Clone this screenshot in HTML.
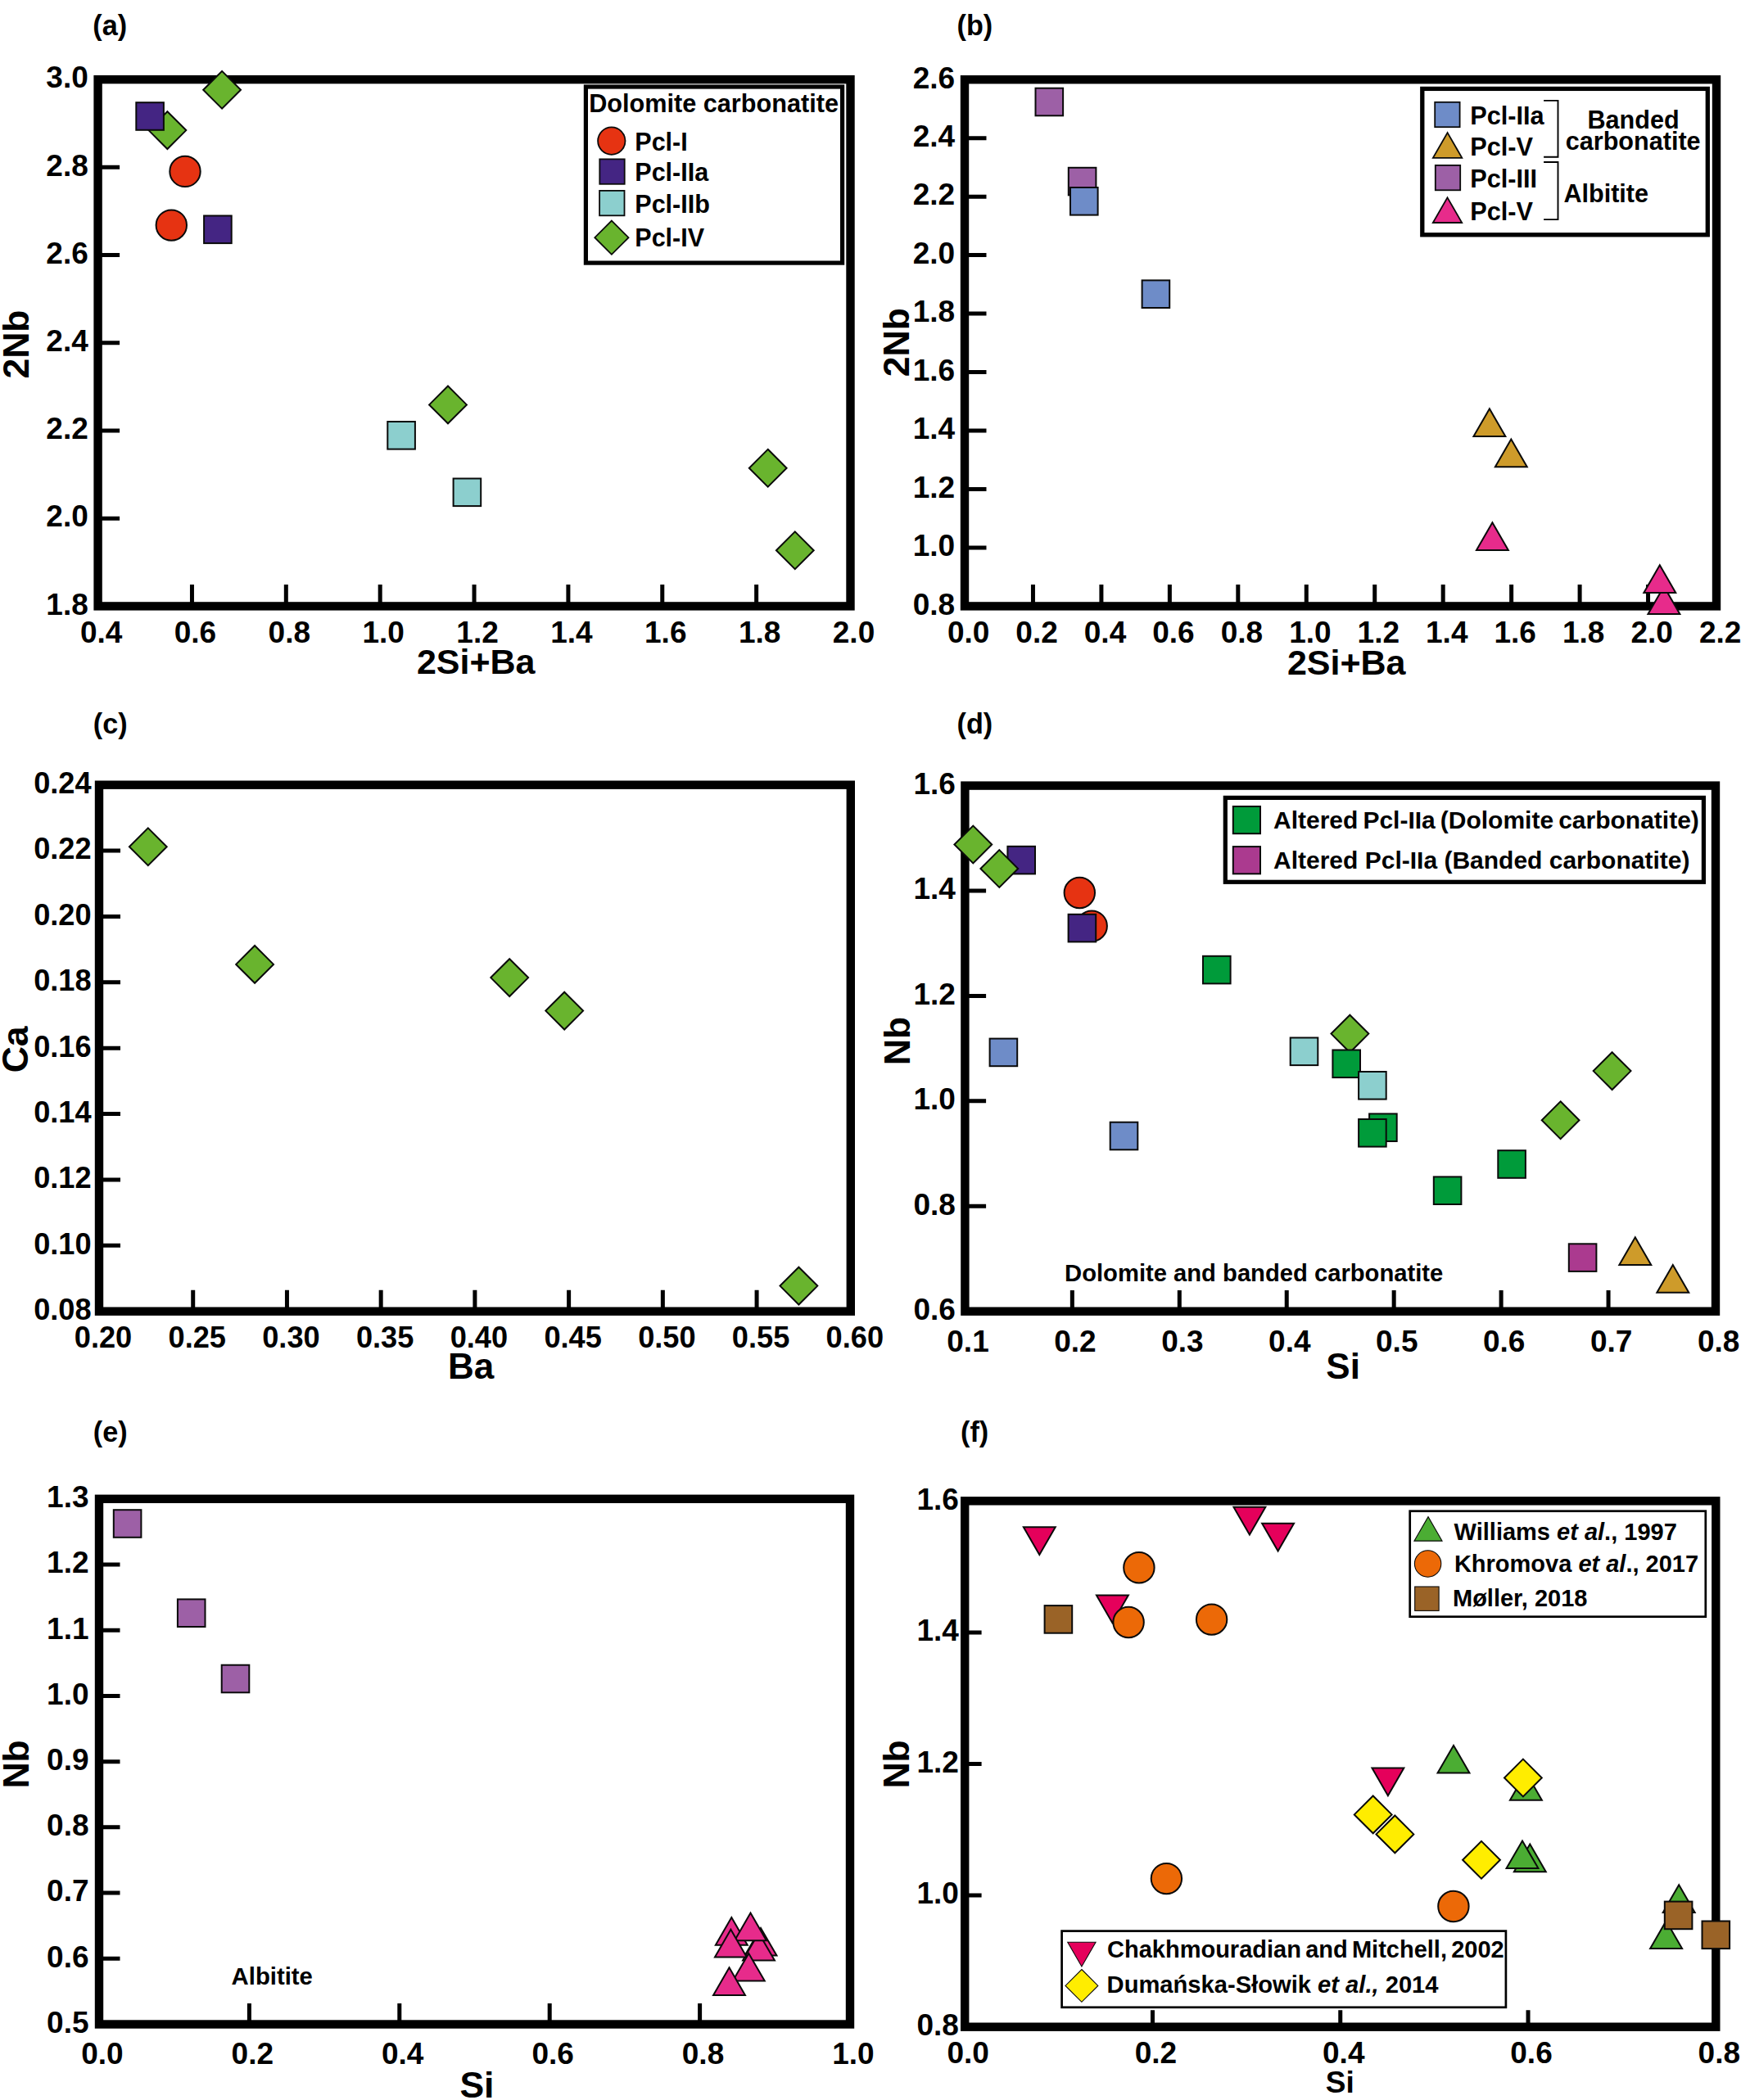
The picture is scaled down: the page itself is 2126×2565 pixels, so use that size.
<!DOCTYPE html>
<html lang="en"><head><meta charset="utf-8"><title>Pyrochlore composition plots</title>
<style>html,body{margin:0;padding:0;background:#fff}svg{display:block}text{font-family:"Liberation Sans",Arial,Helvetica,sans-serif;font-weight:bold;fill:#000}.it{font-style:italic}</style></head><body>
<svg width="2126" height="2565" viewBox="0 0 2126 2565">
<rect width="2126" height="2565" fill="#fff"/>
<g id="panel-a">
<text x="113.3" y="43.2" font-size="34.2" text-anchor="start">(a)</text>
<path d="M234.46 740.4V713.9M349.32 740.4V713.9M464.19 740.4V713.9M579.05 740.4V713.9M693.91 740.4V713.9M808.77 740.4V713.9M923.64 740.4V713.9M119.6 633.18H146.1M119.6 525.97H146.1M119.6 418.75H146.1M119.6 311.53H146.1M119.6 204.32H146.1" stroke="#000" stroke-width="5.0" fill="none"/>
<rect x="119.6" y="97.1" width="918.9" height="643.3" fill="none" stroke="#000" stroke-width="10.4"/>
<text x="123.6" y="784.5" font-size="37" text-anchor="middle">0.4</text>
<text x="238.46" y="784.5" font-size="37" text-anchor="middle">0.6</text>
<text x="353.32" y="784.5" font-size="37" text-anchor="middle">0.8</text>
<text x="468.19" y="784.5" font-size="37" text-anchor="middle">1.0</text>
<text x="583.05" y="784.5" font-size="37" text-anchor="middle">1.2</text>
<text x="697.91" y="784.5" font-size="37" text-anchor="middle">1.4</text>
<text x="812.77" y="784.5" font-size="37" text-anchor="middle">1.6</text>
<text x="927.64" y="784.5" font-size="37" text-anchor="middle">1.8</text>
<text x="1042.5" y="784.5" font-size="37" text-anchor="middle">2.0</text>
<text x="107.8" y="750.7" font-size="37" text-anchor="end">1.8</text>
<text x="107.8" y="643.48" font-size="37" text-anchor="end">2.0</text>
<text x="107.8" y="536.27" font-size="37" text-anchor="end">2.2</text>
<text x="107.8" y="429.05" font-size="37" text-anchor="end">2.4</text>
<text x="107.8" y="321.83" font-size="37" text-anchor="end">2.6</text>
<text x="107.8" y="214.62" font-size="37" text-anchor="end">2.8</text>
<text x="107.8" y="107.4" font-size="37" text-anchor="end">3.0</text>
<text x="508.9" y="823.4" font-size="43" text-anchor="start">2Si+Ba</text>
<text transform="translate(34.5 420.5) rotate(-90)" font-size="44.5" text-anchor="middle">2Nb</text>
<polygon points="204.4,136.2 227.3,159.1 204.4,182 181.5,159.1" fill="#69B42E" stroke="#0a0a0a" stroke-width="2.0"/>
<rect x="166.3" y="125.2" width="33.6" height="33.6" fill="#442583" stroke="#0a0a0a" stroke-width="2.0"/>
<polygon points="271.1,86.9 294,109.8 271.1,132.7 248.2,109.8" fill="#69B42E" stroke="#0a0a0a" stroke-width="2.0"/>
<circle cx="226" cy="209.4" r="18.7" fill="#E63312" stroke="#0a0a0a" stroke-width="2.0"/>
<circle cx="209.3" cy="275.1" r="18.7" fill="#E63312" stroke="#0a0a0a" stroke-width="2.0"/>
<rect x="249.1" y="263.5" width="33.6" height="33.6" fill="#442583" stroke="#0a0a0a" stroke-width="2.0"/>
<rect x="473.3" y="515" width="33.6" height="33.6" fill="#8CCFCE" stroke="#0a0a0a" stroke-width="2.0"/>
<rect x="553.6" y="584.5" width="33.6" height="33.6" fill="#8CCFCE" stroke="#0a0a0a" stroke-width="2.0"/>
<polygon points="547,471.5 569.9,494.4 547,517.3 524.1,494.4" fill="#69B42E" stroke="#0a0a0a" stroke-width="2.0"/>
<polygon points="937.7,548.8 960.6,571.7 937.7,594.6 914.8,571.7" fill="#69B42E" stroke="#0a0a0a" stroke-width="2.0"/>
<polygon points="970.8,649.4 993.7,672.3 970.8,695.2 947.9,672.3" fill="#69B42E" stroke="#0a0a0a" stroke-width="2.0"/>
<rect x="715.4" y="106" width="313.2" height="215.1" fill="#fff" stroke="#000" stroke-width="5.2"/>
<text x="719.2" y="137.1" font-size="30.65" text-anchor="start">Dolomite carbonatite</text>
<circle cx="746.8" cy="172.1" r="16.7" fill="#E63312" stroke="#0a0a0a" stroke-width="1.8"/>
<rect x="732.3" y="194.4" width="30.4" height="30.4" fill="#442583" stroke="#0a0a0a" stroke-width="1.8"/>
<rect x="732.1" y="232.9" width="30.4" height="30.4" fill="#8CCFCE" stroke="#0a0a0a" stroke-width="1.8"/>
<polygon points="746.9,269.6 767.5,290.2 746.9,310.8 726.3,290.2" fill="#69B42E" stroke="#0a0a0a" stroke-width="1.8"/>
<text x="775.3" y="184.1" font-size="30.5" text-anchor="start">Pcl-I</text>
<text x="775.3" y="220.7" font-size="30.5" text-anchor="start">Pcl-IIa</text>
<text x="775.3" y="259.6" font-size="30.5" text-anchor="start">Pcl-IIb</text>
<text x="775.3" y="301.3" font-size="30.5" text-anchor="start">Pcl-IV</text>
</g>
<g id="panel-b">
<text x="1168.5" y="43.2" font-size="34.2" text-anchor="start">(b)</text>
<path d="M1261.45 740.4V713.9M1344.91 740.4V713.9M1428.36 740.4V713.9M1511.82 740.4V713.9M1595.27 740.4V713.9M1678.73 740.4V713.9M1762.18 740.4V713.9M1845.64 740.4V713.9M1929.09 740.4V713.9M2012.55 740.4V713.9M1178 668.93H1204.5M1178 597.47H1204.5M1178 526H1204.5M1178 454.53H1204.5M1178 383.07H1204.5M1178 311.6H1204.5M1178 240.13H1204.5M1178 168.67H1204.5" stroke="#000" stroke-width="5.0" fill="none"/>
<rect x="1178" y="97.2" width="918" height="643.2" fill="none" stroke="#000" stroke-width="10.4"/>
<text x="1182.6" y="784.6" font-size="37" text-anchor="middle">0.0</text>
<text x="1266.05" y="784.6" font-size="37" text-anchor="middle">0.2</text>
<text x="1349.51" y="784.6" font-size="37" text-anchor="middle">0.4</text>
<text x="1432.96" y="784.6" font-size="37" text-anchor="middle">0.6</text>
<text x="1516.42" y="784.6" font-size="37" text-anchor="middle">0.8</text>
<text x="1599.87" y="784.6" font-size="37" text-anchor="middle">1.0</text>
<text x="1683.33" y="784.6" font-size="37" text-anchor="middle">1.2</text>
<text x="1766.78" y="784.6" font-size="37" text-anchor="middle">1.4</text>
<text x="1850.24" y="784.6" font-size="37" text-anchor="middle">1.6</text>
<text x="1933.69" y="784.6" font-size="37" text-anchor="middle">1.8</text>
<text x="2017.15" y="784.6" font-size="37" text-anchor="middle">2.0</text>
<text x="2100.6" y="784.6" font-size="37" text-anchor="middle">2.2</text>
<text x="1166.2" y="750.7" font-size="37" text-anchor="end">0.8</text>
<text x="1166.2" y="679.23" font-size="37" text-anchor="end">1.0</text>
<text x="1166.2" y="607.77" font-size="37" text-anchor="end">1.2</text>
<text x="1166.2" y="536.3" font-size="37" text-anchor="end">1.4</text>
<text x="1166.2" y="464.83" font-size="37" text-anchor="end">1.6</text>
<text x="1166.2" y="393.37" font-size="37" text-anchor="end">1.8</text>
<text x="1166.2" y="321.9" font-size="37" text-anchor="end">2.0</text>
<text x="1166.2" y="250.43" font-size="37" text-anchor="end">2.2</text>
<text x="1166.2" y="178.97" font-size="37" text-anchor="end">2.4</text>
<text x="1166.2" y="107.5" font-size="37" text-anchor="end">2.6</text>
<text x="1571.9" y="824.3" font-size="43" text-anchor="start">2Si+Ba</text>
<text transform="translate(1110.3 418.1) rotate(-90)" font-size="44.5" text-anchor="middle">2Nb</text>
<rect x="1264.5" y="107.7" width="33.6" height="33.6" fill="#9D60A6" stroke="#0a0a0a" stroke-width="2.0"/>
<rect x="1304.8" y="204.8" width="33.6" height="33.6" fill="#9D60A6" stroke="#0a0a0a" stroke-width="2.0"/>
<rect x="1307" y="229" width="33.6" height="33.6" fill="#6E8CC8" stroke="#0a0a0a" stroke-width="2.0"/>
<rect x="1394.6" y="342.4" width="33.6" height="33.6" fill="#6E8CC8" stroke="#0a0a0a" stroke-width="2.0"/>
<polygon points="1818.9,499.31 1838.35,533 1799.45,533" fill="#CE9B2A" stroke="#0a0a0a" stroke-width="2.0"/>
<polygon points="1845.3,536.51 1864.75,570.2 1825.85,570.2" fill="#CE9B2A" stroke="#0a0a0a" stroke-width="2.0"/>
<polygon points="1822.4,638.21 1841.85,671.9 1802.95,671.9" fill="#E72B8B" stroke="#0a0a0a" stroke-width="2.0"/>
<polygon points="2031.9,716.31 2051.35,750 2012.45,750" fill="#E72B8B" stroke="#0a0a0a" stroke-width="2.0"/>
<polygon points="2026.8,690.31 2046.25,724 2007.35,724" fill="#E72B8B" stroke="#0a0a0a" stroke-width="2.0"/>
<rect x="1736.8" y="108.4" width="348.5" height="178.4" fill="#fff" stroke="#000" stroke-width="5.3"/>
<rect x="1752.2" y="124.8" width="30.4" height="30.4" fill="#6E8CC8" stroke="#0a0a0a" stroke-width="1.8"/>
<polygon points="1767.6,162.14 1785.3,192.8 1749.9,192.8" fill="#CE9B2A" stroke="#0a0a0a" stroke-width="1.8"/>
<rect x="1752.8" y="201.9" width="30.4" height="30.4" fill="#9D60A6" stroke="#0a0a0a" stroke-width="1.8"/>
<polygon points="1767.5,241.34 1785.2,272 1749.8,272" fill="#E72B8B" stroke="#0a0a0a" stroke-width="1.8"/>
<text x="1795.2" y="151.6" font-size="30.7" text-anchor="start">Pcl-IIa</text>
<text x="1795.2" y="189.9" font-size="30.7" text-anchor="start">Pcl-V</text>
<text x="1795.2" y="228.5" font-size="30.7" text-anchor="start">Pcl-III</text>
<text x="1795.2" y="268.5" font-size="30.7" text-anchor="start">Pcl-V</text>
<path d="M1885.1 122.9H1902.5V191.8H1885.1M1885.1 198H1902.5V268.1H1885.1" fill="none" stroke="#000" stroke-width="1.9"/>
<text x="1994.6" y="157.3" font-size="30.6" text-anchor="middle">Banded</text>
<text x="1994.2" y="183" font-size="30.6" text-anchor="middle">carbonatite</text>
<text x="1909.4" y="246.9" font-size="30.6" text-anchor="start">Albitite</text>
</g>
<g id="panel-c">
<text x="113.8" y="896.4" font-size="34.2" text-anchor="start">(c)</text>
<path d="M235.72 1601.7V1575.7M350.45 1601.7V1575.7M465.17 1601.7V1575.7M579.9 1601.7V1575.7M694.62 1601.7V1575.7M809.35 1601.7V1575.7M924.07 1601.7V1575.7M121 1521.33H147M121 1440.95H147M121 1360.58H147M121 1280.2H147M121 1199.83H147M121 1119.45H147M121 1039.08H147" stroke="#000" stroke-width="5.0" fill="none"/>
<rect x="121" y="958.7" width="917.8" height="643" fill="none" stroke="#000" stroke-width="10.4"/>
<text x="126" y="1645.7" font-size="36.2" text-anchor="middle">0.20</text>
<text x="240.72" y="1645.7" font-size="36.2" text-anchor="middle">0.25</text>
<text x="355.45" y="1645.7" font-size="36.2" text-anchor="middle">0.30</text>
<text x="470.17" y="1645.7" font-size="36.2" text-anchor="middle">0.35</text>
<text x="584.9" y="1645.7" font-size="36.2" text-anchor="middle">0.40</text>
<text x="699.62" y="1645.7" font-size="36.2" text-anchor="middle">0.45</text>
<text x="814.35" y="1645.7" font-size="36.2" text-anchor="middle">0.50</text>
<text x="929.07" y="1645.7" font-size="36.2" text-anchor="middle">0.55</text>
<text x="1043.8" y="1645.7" font-size="36.2" text-anchor="middle">0.60</text>
<text x="111.6" y="1612" font-size="36.2" text-anchor="end">0.08</text>
<text x="111.6" y="1531.62" font-size="36.2" text-anchor="end">0.10</text>
<text x="111.6" y="1451.25" font-size="36.2" text-anchor="end">0.12</text>
<text x="111.6" y="1370.88" font-size="36.2" text-anchor="end">0.14</text>
<text x="111.6" y="1290.5" font-size="36.2" text-anchor="end">0.16</text>
<text x="111.6" y="1210.12" font-size="36.2" text-anchor="end">0.18</text>
<text x="111.6" y="1129.75" font-size="36.2" text-anchor="end">0.20</text>
<text x="111.6" y="1049.38" font-size="36.2" text-anchor="end">0.22</text>
<text x="111.6" y="969" font-size="36.2" text-anchor="end">0.24</text>
<text x="546.9" y="1684.1" font-size="44" text-anchor="start">Ba</text>
<text transform="translate(33.9 1281.9) rotate(-90)" font-size="44.5" text-anchor="middle">Ca</text>
<polygon points="180.8,1011.4 203.7,1034.3 180.8,1057.2 157.9,1034.3" fill="#69B42E" stroke="#0a0a0a" stroke-width="2.0"/>
<polygon points="311.1,1155 334,1177.9 311.1,1200.8 288.2,1177.9" fill="#69B42E" stroke="#0a0a0a" stroke-width="2.0"/>
<polygon points="622.2,1171.2 645.1,1194.1 622.2,1217 599.3,1194.1" fill="#69B42E" stroke="#0a0a0a" stroke-width="2.0"/>
<polygon points="689.2,1211.7 712.1,1234.6 689.2,1257.5 666.3,1234.6" fill="#69B42E" stroke="#0a0a0a" stroke-width="2.0"/>
<polygon points="975.4,1547.7 998.3,1570.6 975.4,1593.5 952.5,1570.6" fill="#69B42E" stroke="#0a0a0a" stroke-width="2.0"/>
</g>
<g id="panel-d">
<text x="1168.5" y="896.4" font-size="34.2" text-anchor="start">(d)</text>
<path d="M1309.34 1601.7V1576M1440.29 1601.7V1576M1571.23 1601.7V1576M1702.17 1601.7V1576M1833.11 1601.7V1576M1964.06 1601.7V1576M1178.4 1473.28H1204.1M1178.4 1344.86H1204.1M1178.4 1216.44H1204.1M1178.4 1088.02H1204.1" stroke="#000" stroke-width="5.0" fill="none"/>
<rect x="1178.4" y="959.6" width="916.6" height="642.1" fill="none" stroke="#000" stroke-width="10.4"/>
<text x="1182" y="1651.2" font-size="37" text-anchor="middle">0.1</text>
<text x="1312.94" y="1651.2" font-size="37" text-anchor="middle">0.2</text>
<text x="1443.89" y="1651.2" font-size="37" text-anchor="middle">0.3</text>
<text x="1574.83" y="1651.2" font-size="37" text-anchor="middle">0.4</text>
<text x="1705.77" y="1651.2" font-size="37" text-anchor="middle">0.5</text>
<text x="1836.71" y="1651.2" font-size="37" text-anchor="middle">0.6</text>
<text x="1967.66" y="1651.2" font-size="37" text-anchor="middle">0.7</text>
<text x="2098.6" y="1651.2" font-size="37" text-anchor="middle">0.8</text>
<text x="1166.9" y="1612" font-size="37" text-anchor="end">0.6</text>
<text x="1166.9" y="1483.58" font-size="37" text-anchor="end">0.8</text>
<text x="1166.9" y="1355.16" font-size="37" text-anchor="end">1.0</text>
<text x="1166.9" y="1226.74" font-size="37" text-anchor="end">1.2</text>
<text x="1166.9" y="1098.32" font-size="37" text-anchor="end">1.4</text>
<text x="1166.9" y="969.9" font-size="37" text-anchor="end">1.6</text>
<text x="1619.3" y="1683.9" font-size="44" text-anchor="start">Si</text>
<text transform="translate(1111.1 1271.5) rotate(-90)" font-size="44.5" text-anchor="middle">Nb</text>
<text x="1300.1" y="1565.4" font-size="29.2" text-anchor="start">Dolomite and banded carbonatite</text>
<rect x="1230.4" y="1033.8" width="33.6" height="33.6" fill="#442583" stroke="#0a0a0a" stroke-width="2.0"/>
<polygon points="1188.3,1008.6 1211.2,1031.5 1188.3,1054.4 1165.4,1031.5" fill="#69B42E" stroke="#0a0a0a" stroke-width="2.0"/>
<polygon points="1220.3,1038.1 1243.2,1061 1220.3,1083.9 1197.4,1061" fill="#69B42E" stroke="#0a0a0a" stroke-width="2.0"/>
<circle cx="1318.3" cy="1090.5" r="18.7" fill="#E63312" stroke="#0a0a0a" stroke-width="2.0"/>
<circle cx="1333.2" cy="1131.1" r="18.7" fill="#E63312" stroke="#0a0a0a" stroke-width="2.0"/>
<rect x="1304.6" y="1116.8" width="33.6" height="33.6" fill="#442583" stroke="#0a0a0a" stroke-width="2.0"/>
<rect x="1469" y="1167.8" width="33.6" height="33.6" fill="#009B3A" stroke="#0a0a0a" stroke-width="2.0"/>
<rect x="1208.6" y="1268.6" width="33.6" height="33.6" fill="#6E8CC8" stroke="#0a0a0a" stroke-width="2.0"/>
<rect x="1355.7" y="1370.7" width="33.6" height="33.6" fill="#6E8CC8" stroke="#0a0a0a" stroke-width="2.0"/>
<rect x="1575.7" y="1267.5" width="33.6" height="33.6" fill="#8CCFCE" stroke="#0a0a0a" stroke-width="2.0"/>
<polygon points="1648.4,1239.7 1671.3,1262.6 1648.4,1285.5 1625.5,1262.6" fill="#69B42E" stroke="#0a0a0a" stroke-width="2.0"/>
<rect x="1627.4" y="1282.5" width="33.6" height="33.6" fill="#009B3A" stroke="#0a0a0a" stroke-width="2.0"/>
<rect x="1659.1" y="1309" width="33.6" height="33.6" fill="#8CCFCE" stroke="#0a0a0a" stroke-width="2.0"/>
<rect x="1672.1" y="1360.4" width="33.6" height="33.6" fill="#009B3A" stroke="#0a0a0a" stroke-width="2.0"/>
<rect x="1659.1" y="1367" width="33.6" height="33.6" fill="#009B3A" stroke="#0a0a0a" stroke-width="2.0"/>
<rect x="1829.3" y="1405.2" width="33.6" height="33.6" fill="#009B3A" stroke="#0a0a0a" stroke-width="2.0"/>
<rect x="1750.8" y="1437.4" width="33.6" height="33.6" fill="#009B3A" stroke="#0a0a0a" stroke-width="2.0"/>
<polygon points="1968.6,1285.2 1991.5,1308.1 1968.6,1331 1945.7,1308.1" fill="#69B42E" stroke="#0a0a0a" stroke-width="2.0"/>
<polygon points="1905.6,1345.3 1928.5,1368.2 1905.6,1391.1 1882.7,1368.2" fill="#69B42E" stroke="#0a0a0a" stroke-width="2.0"/>
<rect x="1915.8" y="1519.3" width="33.6" height="33.6" fill="#AB3A8F" stroke="#0a0a0a" stroke-width="2.0"/>
<polygon points="1996.8,1511.31 2016.25,1545 1977.35,1545" fill="#CE9B2A" stroke="#0a0a0a" stroke-width="2.0"/>
<polygon points="2042.8,1545.11 2062.25,1578.8 2023.35,1578.8" fill="#CE9B2A" stroke="#0a0a0a" stroke-width="2.0"/>
<rect x="1496.3" y="974.4" width="584.1" height="102.9" fill="#fff" stroke="#000" stroke-width="5.2"/>
<rect x="1505.8" y="985" width="33.2" height="33.2" fill="#009B3A" stroke="#0a0a0a" stroke-width="2.0"/>
<rect x="1505.8" y="1034.1" width="33.2" height="33.2" fill="#AB3A8F" stroke="#0a0a0a" stroke-width="2.0"/>
<text x="1555" y="1011.9" font-size="30" text-anchor="start" word-spacing="-2.3">Altered Pcl-IIa (Dolomite carbonatite)</text>
<text x="1555" y="1061.1" font-size="30" text-anchor="start">Altered Pcl-IIa (Banded carbonatite)</text>
</g>
<g id="panel-e">
<text x="113.8" y="1760.6" font-size="34.2" text-anchor="start">(e)</text>
<path d="M304.4 2472.5V2447M487.8 2472.5V2447M671.2 2472.5V2447M854.6 2472.5V2447M121 2392.29H146.5M121 2312.07H146.5M121 2231.86H146.5M121 2151.65H146.5M121 2071.44H146.5M121 1991.22H146.5M121 1911.01H146.5" stroke="#000" stroke-width="5.0" fill="none"/>
<rect x="121" y="1830.8" width="917" height="641.7" fill="none" stroke="#000" stroke-width="10.4"/>
<text x="124.9" y="2521.3" font-size="37" text-anchor="middle">0.0</text>
<text x="308.3" y="2521.3" font-size="37" text-anchor="middle">0.2</text>
<text x="491.7" y="2521.3" font-size="37" text-anchor="middle">0.4</text>
<text x="675.1" y="2521.3" font-size="37" text-anchor="middle">0.6</text>
<text x="858.5" y="2521.3" font-size="37" text-anchor="middle">0.8</text>
<text x="1041.9" y="2521.3" font-size="37" text-anchor="middle">1.0</text>
<text x="108.5" y="2482.8" font-size="37" text-anchor="end">0.5</text>
<text x="108.5" y="2402.59" font-size="37" text-anchor="end">0.6</text>
<text x="108.5" y="2322.38" font-size="37" text-anchor="end">0.7</text>
<text x="108.5" y="2242.16" font-size="37" text-anchor="end">0.8</text>
<text x="108.5" y="2161.95" font-size="37" text-anchor="end">0.9</text>
<text x="108.5" y="2081.74" font-size="37" text-anchor="end">1.0</text>
<text x="108.5" y="2001.52" font-size="37" text-anchor="end">1.1</text>
<text x="108.5" y="1921.31" font-size="37" text-anchor="end">1.2</text>
<text x="108.5" y="1841.1" font-size="37" text-anchor="end">1.3</text>
<text x="561.4" y="2562" font-size="44.5" text-anchor="start">Si</text>
<text transform="translate(35 2154.9) rotate(-90)" font-size="44.5" text-anchor="middle">Nb</text>
<text x="282.6" y="2424.3" font-size="29.3" text-anchor="start">Albitite</text>
<rect x="138.8" y="1844.2" width="33.6" height="33.6" fill="#9D60A6" stroke="#0a0a0a" stroke-width="2.0"/>
<rect x="216.9" y="1953.4" width="33.6" height="33.6" fill="#9D60A6" stroke="#0a0a0a" stroke-width="2.0"/>
<rect x="270.7" y="2033.7" width="33.6" height="33.6" fill="#9D60A6" stroke="#0a0a0a" stroke-width="2.0"/>
<polygon points="929,2354.91 948.45,2388.6 909.55,2388.6" fill="#E72B8B" stroke="#0a0a0a" stroke-width="2.0"/>
<polygon points="926.5,2360.91 945.95,2394.6 907.05,2394.6" fill="#E72B8B" stroke="#0a0a0a" stroke-width="2.0"/>
<polygon points="893.3,2342.01 912.75,2375.7 873.85,2375.7" fill="#E72B8B" stroke="#0a0a0a" stroke-width="2.0"/>
<polygon points="916.5,2336.51 935.95,2370.2 897.05,2370.2" fill="#E72B8B" stroke="#0a0a0a" stroke-width="2.0"/>
<polygon points="892.4,2356.81 911.85,2390.5 872.95,2390.5" fill="#E72B8B" stroke="#0a0a0a" stroke-width="2.0"/>
<polygon points="914.3,2385.91 933.75,2419.6 894.85,2419.6" fill="#E72B8B" stroke="#0a0a0a" stroke-width="2.0"/>
<polygon points="890.5,2403.31 909.95,2437 871.05,2437" fill="#E72B8B" stroke="#0a0a0a" stroke-width="2.0"/>
</g>
<g id="panel-f">
<text x="1173" y="1760.6" font-size="34.2" text-anchor="start">(f)</text>
<path d="M1407.48 2475.7V2455.3M1636.75 2475.7V2455.3M1866.03 2475.7V2455.3M1178.2 2315.1H1198.6M1178.2 2154.5H1198.6M1178.2 1993.9H1198.6" stroke="#000" stroke-width="5.0" fill="none"/>
<rect x="1178.2" y="1833.3" width="917.1" height="642.4" fill="none" stroke="#000" stroke-width="10.4"/>
<text x="1182.2" y="2519.8" font-size="37" text-anchor="middle">0.0</text>
<text x="1411.48" y="2519.8" font-size="37" text-anchor="middle">0.2</text>
<text x="1640.75" y="2519.8" font-size="37" text-anchor="middle">0.4</text>
<text x="1870.03" y="2519.8" font-size="37" text-anchor="middle">0.6</text>
<text x="2099.3" y="2519.8" font-size="37" text-anchor="middle">0.8</text>
<text x="1170.9" y="2486" font-size="37" text-anchor="end">0.8</text>
<text x="1170.9" y="2325.4" font-size="37" text-anchor="end">1.0</text>
<text x="1170.9" y="2164.8" font-size="37" text-anchor="end">1.2</text>
<text x="1170.9" y="2004.2" font-size="37" text-anchor="end">1.4</text>
<text x="1170.9" y="1843.6" font-size="37" text-anchor="end">1.6</text>
<text x="1618.8" y="2556.2" font-size="37" text-anchor="start">Si</text>
<text transform="translate(1110.1 2154.9) rotate(-90)" font-size="44.5" text-anchor="middle">Nb</text>
<polygon points="1249.85,1865.3 1288.75,1865.3 1269.3,1898.99" fill="#E5005B" stroke="#0a0a0a" stroke-width="2.0"/>
<polygon points="1506.45,1840.8 1545.35,1840.8 1525.9,1874.49" fill="#E5005B" stroke="#0a0a0a" stroke-width="2.0"/>
<polygon points="1541.15,1860.8 1580.05,1860.8 1560.6,1894.49" fill="#E5005B" stroke="#0a0a0a" stroke-width="2.0"/>
<polygon points="1338.95,1948.6 1377.85,1948.6 1358.4,1982.29" fill="#E5005B" stroke="#0a0a0a" stroke-width="2.0"/>
<circle cx="1390.9" cy="1914.8" r="18.7" fill="#EC6907" stroke="#0a0a0a" stroke-width="2.0"/>
<circle cx="1378.1" cy="1981.5" r="18.7" fill="#EC6907" stroke="#0a0a0a" stroke-width="2.0"/>
<circle cx="1479.6" cy="1978.1" r="18.7" fill="#EC6907" stroke="#0a0a0a" stroke-width="2.0"/>
<rect x="1275.6" y="1961.1" width="33.6" height="33.6" fill="#9A6327" stroke="#0a0a0a" stroke-width="2.0"/>
<circle cx="1424.4" cy="2294.6" r="18.7" fill="#EC6907" stroke="#0a0a0a" stroke-width="2.0"/>
<polygon points="1675.45,2159.6 1714.35,2159.6 1694.9,2193.29" fill="#E5005B" stroke="#0a0a0a" stroke-width="2.0"/>
<polygon points="1775,2131.91 1794.45,2165.6 1755.55,2165.6" fill="#4BAD33" stroke="#0a0a0a" stroke-width="2.0"/>
<polygon points="1863.4,2165.01 1882.85,2198.7 1843.95,2198.7" fill="#4BAD33" stroke="#0a0a0a" stroke-width="2.0"/>
<polygon points="1859.9,2148.6 1882.8,2171.5 1859.9,2194.4 1837,2171.5" fill="#FFED00" stroke="#0a0a0a" stroke-width="2.0"/>
<polygon points="1676.7,2193.5 1699.6,2216.4 1676.7,2239.3 1653.8,2216.4" fill="#FFED00" stroke="#0a0a0a" stroke-width="2.0"/>
<polygon points="1703.4,2217.5 1726.3,2240.4 1703.4,2263.3 1680.5,2240.4" fill="#FFED00" stroke="#0a0a0a" stroke-width="2.0"/>
<polygon points="1809,2248.9 1831.9,2271.8 1809,2294.7 1786.1,2271.8" fill="#FFED00" stroke="#0a0a0a" stroke-width="2.0"/>
<polygon points="1868.3,2252.61 1887.75,2286.3 1848.85,2286.3" fill="#4BAD33" stroke="#0a0a0a" stroke-width="2.0"/>
<polygon points="1859,2248.41 1878.45,2282.1 1839.55,2282.1" fill="#4BAD33" stroke="#0a0a0a" stroke-width="2.0"/>
<circle cx="1774.9" cy="2328.5" r="18.7" fill="#EC6907" stroke="#0a0a0a" stroke-width="2.0"/>
<polygon points="2050.2,2302.31 2069.65,2336 2030.75,2336" fill="#4BAD33" stroke="#0a0a0a" stroke-width="2.0"/>
<polygon points="2034.6,2346.31 2054.05,2380 2015.15,2380" fill="#4BAD33" stroke="#0a0a0a" stroke-width="2.0"/>
<rect x="2032.8" y="2322.6" width="33.6" height="33.6" fill="#9A6327" stroke="#0a0a0a" stroke-width="2.0"/>
<rect x="2078.5" y="2346.5" width="33.6" height="33.6" fill="#9A6327" stroke="#0a0a0a" stroke-width="2.0"/>
<rect x="1721.7" y="1845.7" width="361.1" height="129" fill="#fff" stroke="#000" stroke-width="2.7"/>
<polygon points="1744,1852.62 1761.05,1882.15 1726.95,1882.15" fill="#4BAD33" stroke="#0a0a0a" stroke-width="1.1"/>
<circle cx="1743.6" cy="1910" r="16.2" fill="#EC6907" stroke="#0a0a0a" stroke-width="1.1"/>
<rect x="1727.7" y="1938" width="29.4" height="29.4" fill="#9A6327" stroke="#0a0a0a" stroke-width="1.1"/>
<text x="1775.6" y="1881.3" font-size="29" text-anchor="start">Williams <tspan class="it">et al</tspan>., 1997</text>
<text x="1775.9" y="1920.3" font-size="29" text-anchor="start">Khromova <tspan class="it">et al</tspan>., 2017</text>
<text x="1774" y="1961.6" font-size="29" text-anchor="start">Møller, 2018</text>
<rect x="1296.6" y="2358.6" width="542.3" height="93.2" fill="#fff" stroke="#000" stroke-width="2.7"/>
<polygon points="1303.75,2372.25 1338.05,2372.25 1320.9,2401.95" fill="#E5005B" stroke="#0a0a0a" stroke-width="1.1"/>
<polygon points="1320.9,2405.5 1340.8,2425.4 1320.9,2445.3 1301,2425.4" fill="#FFED00" stroke="#0a0a0a" stroke-width="1.1"/>
<text x="1352" y="2391.1" font-size="29" text-anchor="start" word-spacing="-2.8">Chakhmouradian and Mitchell, 2002</text>
<text x="1351.6" y="2433.7" font-size="29.15" text-anchor="start">Dumańska-Słowik <tspan class="it">et al.,</tspan> 2014</text>
</g>
</svg></body></html>
